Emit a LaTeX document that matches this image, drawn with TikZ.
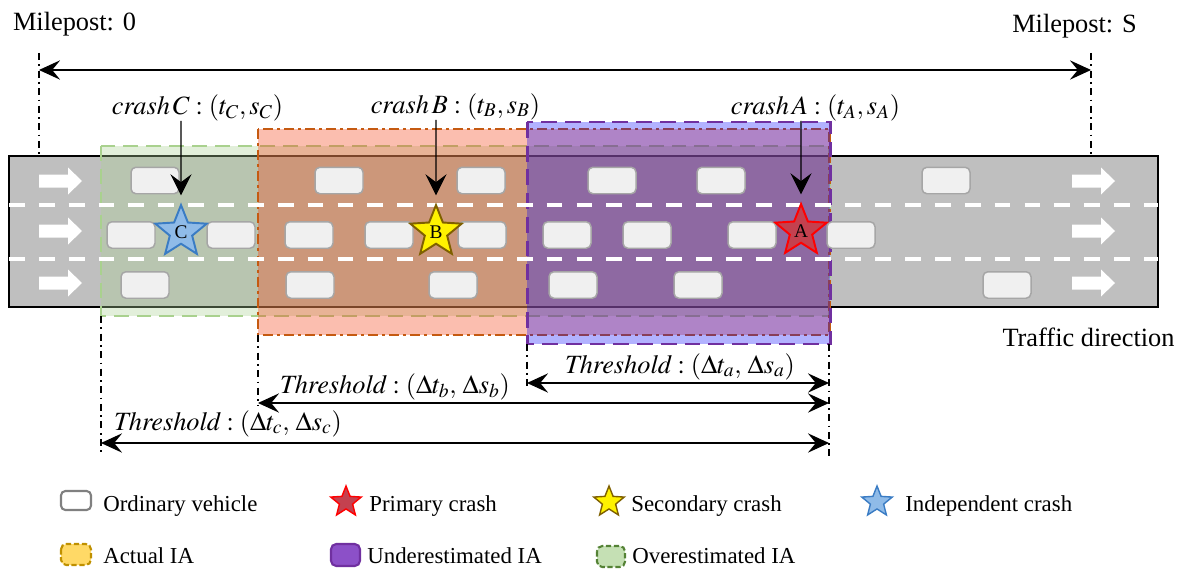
\documentclass[tikz,border=0pt]{standalone}
\usepackage{mathptmx}
\usepackage{fontspec}
\setmainfont{Liberation Serif}
\usetikzlibrary{shapes.geometric,arrows.meta}
\definecolor{roadgray}{HTML}{BFBFBF}
\definecolor{carfill}{HTML}{F0F0F0}
\definecolor{carborder}{HTML}{A6A6A6}
\definecolor{greenfill}{HTML}{ABD195}
\definecolor{greenline}{HTML}{A9D18E}
\definecolor{orangefill}{HTML}{F44114}
\definecolor{orangeline}{HTML}{C55A11}
\definecolor{purplefill}{HTML}{0000FF}
\definecolor{purpleline}{HTML}{7030A0}
\definecolor{starblue}{HTML}{8FBBE8}
\definecolor{starblueline}{HTML}{3A7CC4}
\definecolor{staryellowline}{HTML}{7F6000}
\definecolor{starred}{HTML}{C4414F}
\definecolor{legpurple}{HTML}{8C50C8}
\definecolor{leggold}{HTML}{FFD966}
\definecolor{leggoldline}{HTML}{BF9000}
\definecolor{leggreen}{HTML}{C5E0B4}
\definecolor{leggreenline}{HTML}{548235}
\newcommand\FntBig{\fontsize{15}{18}\selectfont}
\newcommand\FntLeg{\fontsize{13}{15}\selectfont}
\begin{document}
\begin{tikzpicture}[x=0.02cm,y=-0.02cm,
  car/.style={draw=carborder,fill=carfill,line width=0.85pt,rounded corners=2.8pt,
    minimum width=0.96cm,minimum height=0.53cm,inner sep=0pt},
  crashstar/.style={star,star points=5,star point ratio=2.3,minimum size=1.08cm,
    inner sep=0pt,line width=1.1pt,font=\fontsize{11}{11}\selectfont},
  legstar/.style={star,star points=5,star point ratio=2.3,minimum size=0.64cm,
    inner sep=0pt,line width=0.8pt},
  lane/.style={white,line width=2.3pt,dash pattern=on 9pt off 8pt},
  iagreen/.style={draw=greenline,fill=greenfill,fill opacity=0.35,line width=1.7pt,
    dash pattern=on 8.5pt off 4.5pt},
  iaorange/.style={draw=orangeline,fill=orangefill,fill opacity=0.34,line width=1.7pt,
    dash pattern=on 5.7pt off 2.3pt on 1.7pt off 2.3pt},
  iapurple/.style={draw=purpleline,fill=purplefill,fill opacity=0.3,line width=1.7pt,
    dash pattern=on 9pt off 4.5pt},
  dimline/.style={black,line width=0.7pt,dash pattern=on 4pt off 2.5pt on 1pt off 2.5pt},
  dimarrow/.style={black,line width=0.6pt,{Stealth[length=12pt,width=11pt,inset=4.5pt]}-{Stealth[length=12pt,width=11pt,inset=4.5pt]}},
  pointer/.style={black,line width=0.6pt,-{Stealth[length=12pt,width=12pt,inset=4.5pt]}},
  lbl/.style={inner sep=0pt,anchor=base,font=\FntBig},
  legtext/.style={inner sep=0pt,anchor=base west,font=\FntLeg},
  warrow/.pic={\fill[white] (0,-6.5) -- (29,-6.5) -- (29,-13.5) -- (43,0) -- (29,13.5) -- (29,6.5) -- (0,6.5) -- cycle;}
]
\useasboundingbox (0,0) rectangle (1189,571);

% road
\draw[fill=roadgray,line width=0.6pt] (9,156) rectangle (1158,307);

% incident areas
\draw[iagreen] (101,146) rectangle (829,316);
\draw[iaorange] (258,129) rectangle (829,335);
\draw[iapurple] (527,122) rectangle (830,344);

% lane markings
\draw[lane] (9,205) -- (1158,205);
\draw[lane] (9,259) -- (1158,259);

% direction arrows
\foreach \yy in {181,231,283}{
  \pic at (39,\yy) {warrow};
  \pic at (1072,\yy) {warrow};
}

% vehicles
\foreach \xx [count=\i] in {155,339,481,612,721,946}{
  \node[car] (r1car\i) at (\xx,180.5) {};
}
\foreach \xx [count=\i] in {131,231,309,389,482,567,647,752,851}{
  \node[car] (r2car\i) at (\xx,235) {};
}
\foreach \xx [count=\i] in {145,310,453,573,698,1007}{
  \node[car] (r3car\i) at (\xx,285) {};
}

% crashes
\node[crashstar,draw=starblueline,fill=starblue] (starC) at (181,232) {C};
\node[crashstar,draw=staryellowline,fill=yellow] (starB) at (436,232) {B};
\node[crashstar,draw=red,fill=starred] (starA) at (801,231) {A};

\node[lbl] (labC) at (197.5,114) {$\mathit{crash}\,C:(t_C,s_C)$};
\node[lbl] (labB) at (455.5,113) {$\mathit{crash}\,B:(t_B,s_B)$};
\node[lbl] (labA) at (815.5,114) {$\mathit{crash}\,A:(t_A,s_A)$};

\draw[pointer,shorten >=4pt] (starC |- labC.south) -- (starC.north);
\draw[pointer,shorten >=4pt] (starB |- labB.south) -- (starB.north);
\draw[pointer,shorten >=4pt] (starA |- labA.south) -- (starA.north);

% mileposts
\node[lbl] (mp0) at (74.5,31) {Milepost: 0};
\node[lbl] (mpS) at (1074.5,33) {Milepost: S};
\coordinate (m0top) at (39,53);
\coordinate (m0bot) at (39,156);
\coordinate (mStop) at (1091,53);
\coordinate (mSbot) at (1091,156);
\draw[dimline] (m0top) -- (m0bot);
\draw[dimline] (mStop) -- (mSbot);
\coordinate (m0arr) at (39,70);
\coordinate (mSarr) at (1091,70);
\draw[dimarrow] (m0arr) -- (mSarr);

\node[lbl] (traffic) at (1088.5,346) {Traffic direction};

% thresholds
\coordinate (cTop) at (101,316);
\coordinate (cBot) at (101,452);
\coordinate (bTop) at (258,335);
\coordinate (bBot) at (258,406);
\coordinate (aTop) at (527,344);
\coordinate (aBot) at (527,388);
\coordinate (eTop) at (829,344);
\coordinate (eBot) at (829,460);
\draw[dimline] (cTop) -- (cBot);
\draw[dimline] (bTop) -- (bBot);
\draw[dimline] (aTop) -- (aBot);
\draw[dimline] (eTop) -- (eBot);

\coordinate (aL) at (527,383);
\coordinate (aR) at (829,383);
\coordinate (bL) at (258,403);
\coordinate (bR) at (829,403);
\coordinate (cL) at (101,443);
\coordinate (cR) at (829,443);
\draw[dimarrow] (aL) -- (aR);
\draw[dimarrow] (bL) -- (bR);
\draw[dimarrow] (cL) -- (cR);
\node[lbl] (thA) at (680,373) {$\mathit{Threshold}:(\Delta t_a,\,\Delta s_a)$};
\node[lbl] (thB) at (395,393) {$\mathit{Threshold}:(\Delta t_b,\,\Delta s_b)$};
\node[lbl] (thC) at (228,430) {$\mathit{Threshold}:(\Delta t_c,\,\Delta s_c)$};

% legend
\draw[draw=gray,fill=white,line width=1.2pt,rounded corners=2.5pt] (61,491) rectangle (91,510);
\node[legtext] (lg1) at (103,511) {Ordinary vehicle};
\node[legstar,draw=red,fill=starred] (lgA) at (346,502) {};
\node[legtext] (lg2) at (369,511) {Primary crash};
\node[legstar,draw=staryellowline,fill=yellow] (lgB) at (609,502) {};
\node[legtext] (lg3) at (631,511) {Secondary crash};
\node[legstar,draw=starblueline,fill=starblue] (lgC) at (877,502) {};
\node[legtext] (lg4) at (905,511) {Independent crash};

\draw[draw=leggoldline,fill=leggold,line width=1.2pt,rounded corners=3pt,dash pattern=on 3pt off 1.5pt] (61,544) rectangle (91,565);
\node[legtext] (lg5) at (103,563) {Actual IA};
\draw[draw=purpleline,fill=legpurple,line width=1.2pt,rounded corners=3pt] (331,544) rectangle (360,566);
\node[legtext] (lg6) at (367,563) {Underestimated IA};
\draw[draw=leggreenline,fill=leggreen,line width=1.2pt,rounded corners=3pt,dash pattern=on 3pt off 1.5pt] (597,546) rectangle (625,567);
\node[legtext] (lg7) at (632,563) {Overestimated IA};
\end{tikzpicture}
\end{document}
